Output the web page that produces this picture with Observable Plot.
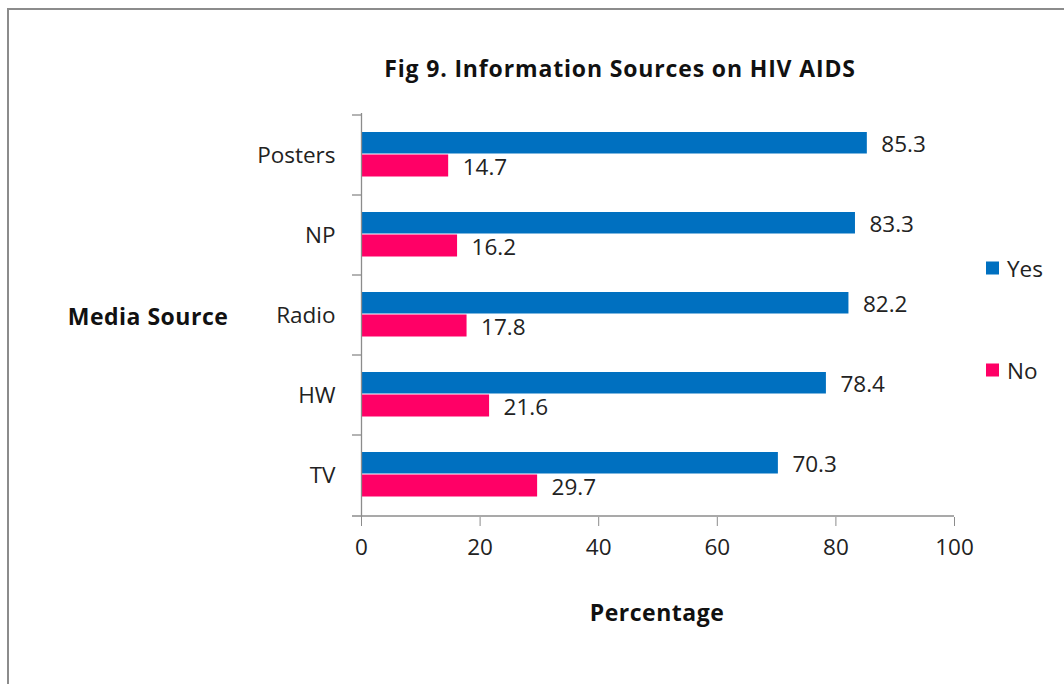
<!DOCTYPE html>
<html>
<head>
<meta charset="utf-8">
<script src="https://cdn.jsdelivr.net/npm/d3@7"></script>
<script src="https://cdn.jsdelivr.net/npm/@observablehq/plot@0.6"></script>
<style>
  html, body { margin: 0; padding: 0; background: #fff; }
  #wrap { position: relative; width: 1064px; height: 684px; overflow: hidden; font-family: "Open Sans", Lato, sans-serif; color: #222; }
  #border { position: absolute; left: 7px; top: 8px; width: 1070px; height: 700px; border-left: 2px solid #8c8c8c; border-top: 2px solid #8c8c8c; box-sizing: border-box; }
  .abs { position: absolute; white-space: nowrap; }
  #title { left: 620px; top: 68px; transform: translate(-50%, -50%); font-weight: 700; font-size: 23px; letter-spacing: 0.85px; color: #111; }
  #ylab { left: 148px; top: 316px; transform: translate(-50%, -50%); font-weight: 700; font-size: 23px; letter-spacing: 0.5px; color: #111; }
  #xlab { left: 657px; top: 612px; transform: translate(-50%, -50%); font-weight: 700; font-size: 23px; letter-spacing: 0.5px; color: #111; }
  .leg { left: 986px; font-size: 22.5px; display: flex; align-items: center; color: #222; }
  .sw { width: 13px; height: 13px; margin-right: 8px; }
  svg { position: absolute; left: 0; top: 0; }
</style>
</head>
<body>
<div id="wrap">
  <div id="border"></div>
  <div id="chart"></div>
  <div class="abs" id="title">Fig 9. Information Sources on HIV AIDS</div>
  <div class="abs" id="ylab">Media Source</div>
  <div class="abs" id="xlab">Percentage</div>
  <div id="legend"></div>
</div>
<script>
const categories = ["Posters", "NP", "Radio", "HW", "TV"];
const yesValues = [85.3, 83.3, 82.2, 78.4, 70.3];
const noValues = [14.7, 16.2, 17.8, 21.6, 29.7];
const seriesNames = ["Yes", "No"];
const seriesColors = ["#0070C0", "#FF0066"];
const xTicks = [0, 20, 40, 60, 80, 100];

const yesData = categories.map((c, i) => ({category: c, value: yesValues[i]}));
const noData = categories.map((c, i) => ({category: c, value: noValues[i]}));
const axisGray = "#8c8c8c";
const fontFam = "'Open Sans', Lato, sans-serif";
const fs = 22.5;

const chart = Plot.plot({
  width: 1064,
  height: 684,
  marginLeft: 361,
  marginRight: 110,
  marginTop: 113,
  marginBottom: 167,
  style: {fontFamily: fontFam, fontSize: fs + "px", background: "transparent"},
  x: {domain: [0, 100]},
  y: {domain: categories, padding: 0},
  marks: [
    Plot.barX(yesData, {x: "value", y: "category", fill: seriesColors[0], insetTop: 17, insetBottom: 41.5}),
    Plot.barX(noData, {x: "value", y: "category", fill: seriesColors[1], insetTop: 39.5, insetBottom: 18.5}),
    Plot.ruleX([0], {stroke: axisGray, strokeWidth: 1.3}),
    Plot.ruleY(categories, {y: d => d, dy: -40.5, x1: 0, x2: 0, insetLeft: -9, stroke: axisGray, strokeWidth: 1.3}),
    Plot.ruleY([categories[categories.length - 1]], {y: d => d, dy: 40.5, x1: 0, x2: 100, insetLeft: -9, stroke: axisGray, strokeWidth: 1.3}),
    Plot.axisX({ticks: xTicks, tickSize: 9, tickPadding: 13, stroke: axisGray, fill: "#222", label: null, fontSize: fs}),
    Plot.axisY({tickSize: 0, tickPadding: 26, label: null, fill: "#222", fontSize: fs}),
    Plot.text(yesData, {x: "value", y: "category", text: d => d.value.toFixed(1), dx: 14, dy: -11, textAnchor: "start", fill: "#222", fontSize: fs}),
    Plot.text(noData, {x: "value", y: "category", text: d => d.value.toFixed(1), dx: 14, dy: 12, textAnchor: "start", fill: "#222", fontSize: fs})
  ]
});
document.getElementById("chart").appendChild(chart);

const legend = document.getElementById("legend");
const legendTops = [268, 370];
seriesNames.forEach((name, i) => {
  const item = document.createElement("div");
  item.className = "abs leg";
  item.style.top = legendTops[i] + "px";
  item.style.transform = "translateY(-50%)";
  item.innerHTML = `<span class="sw" style="background:${seriesColors[i]}"></span><span>${name}</span>`;
  legend.appendChild(item);
});
</script>
</body>
</html>
